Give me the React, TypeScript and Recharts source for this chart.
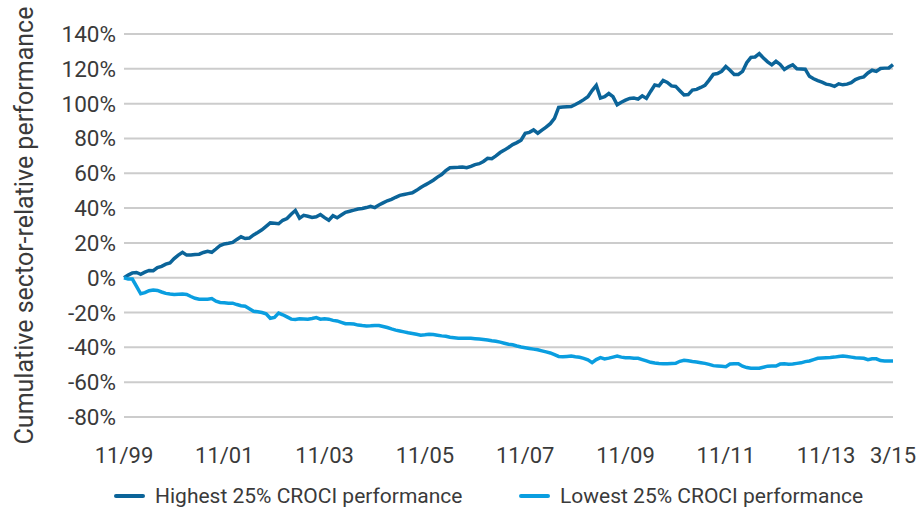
import { CartesianGrid, Legend, Line, LineChart, XAxis, YAxis } from "recharts";

// cumulative sector-relative performance, monthly from 11/99 to 3/15 (%)
const highest = [
  0, 1.5, 2.8, 3, 2, 3.2, 4.2, 4, 5.8, 6.5, 7.8, 8.5, 11, 13, 14.6, 13, 13, 13.3, 13.5, 14.5,
  15.2, 14.6, 16.5, 18.5, 19.4, 19.8, 20.3, 22, 23.5, 22.5, 22.8, 24.6, 26, 27.5, 29.5, 31.5, 31.3, 31, 33, 34,
  36.5, 38.6, 34.2, 35.8, 35.3, 34.6, 35, 36.3, 34.5, 33, 35.6, 34.4, 36, 37.6, 38.2, 38.8, 39.5, 39.8, 40.3, 41,
  40.3, 41.8, 43, 44.2, 45, 46.2, 47.3, 47.8, 48.3, 48.8, 50.2, 51.8, 53.2, 54.5, 56, 57.8, 59.3, 61.5, 63.2, 63.3,
  63.4, 63.6, 63.2, 64, 65, 65.5, 66.8, 68.6, 68.4, 70, 71.9, 73.3, 74.8, 76.5, 77.6, 79, 83, 83.5, 84.9, 83,
  84.8, 86.5, 88.5, 91.5, 97.8, 98, 98.2, 98.3, 99.5, 100.8, 102.3, 104, 107.5, 110.5, 103.2, 104, 105.8, 104, 99.3, 100.8,
  102, 103, 103.2, 102.6, 104.5, 103, 107, 110.7, 110.2, 113.3, 112.2, 110.2, 109.9, 107.4, 105, 105.2, 107.8, 108.2, 109.3, 110.5,
  113.5, 116.8, 117.3, 118.6, 121.3, 119.2, 116.8, 116.8, 118.5, 123.5, 126.6, 126.8, 128.7, 126.2, 124, 122.3, 124.3, 122.5, 119.6, 121.2,
  122.3, 120, 119.9, 119.8, 115.7, 114.3, 113.2, 112.3, 111.2, 110.8, 109.9, 111.4, 110.8, 111.2, 112, 113.8, 114.8, 115.4, 117.6, 119.2,
  118.5, 120.2, 120.4, 120.5, 122.4,
];

const lowest = [
  0, -0.8, -0.8, -5, -9.2, -8.6, -7.5, -7, -7.3, -8.2, -9, -9.4, -9.6, -9.5, -9.4, -9.6, -10.8, -11.8, -12.3, -12.3,
  -12.3, -12, -13.5, -14.2, -14.4, -14.6, -14.6, -15.4, -16.1, -16.4, -17.8, -19.3, -19.6, -20, -20.7, -23.3, -22.8, -20.3, -21.3, -22.5,
  -23.8, -24, -23.6, -23.7, -23.8, -23.4, -22.9, -23.8, -23.6, -23.8, -24.5, -24.8, -25.6, -26.4, -26.5, -26.6, -27.2, -27.5, -27.7, -27.6,
  -27.4, -27.4, -28, -28.6, -29.4, -30.1, -30.6, -31.1, -31.6, -32, -32.5, -33, -32.8, -32.5, -32.6, -33, -33.4, -33.6, -34.2, -34.5,
  -34.8, -34.8, -34.8, -34.8, -35, -35.2, -35.5, -35.8, -36.2, -36.5, -37, -37.6, -38.2, -38.5, -39.2, -39.8, -40.2, -40.6, -41, -41.4,
  -42, -42.6, -43.2, -44.2, -45.2, -45.4, -45.2, -45, -45.4, -45.7, -46.3, -47.2, -48.8, -47, -45.9, -46.6, -46.2, -45.6, -45, -45.6,
  -45.9, -46, -46.2, -46.3, -47, -47.8, -48.6, -49, -49.3, -49.4, -49.4, -49.3, -49.2, -48, -47.4, -47.7, -48.1, -48.4, -48.8, -49.2,
  -49.8, -50.5, -50.7, -50.9, -51.1, -49.6, -49.4, -49.4, -50.8, -51.6, -52, -52, -52, -51.4, -50.8, -50.7, -50.7, -49.6, -49.4, -49.7,
  -49.5, -49.2, -48.9, -48.2, -47.8, -47, -46.3, -46.1, -45.9, -45.8, -45.6, -45.2, -45, -45.3, -45.6, -45.9, -46.1, -46.3, -47.1, -46.5,
  -46.6, -47.6, -47.8, -47.8, -47.8,
];

const tickMonths = [0, 24, 48, 72, 96, 120, 144, 168, 184];
const tickLabels = ["11/99", "11/01", "11/03", "11/05", "11/07", "11/09", "11/11", "11/13", "3/15"];
const yTicks = [-80, -60, -40, -20, 0, 20, 40, 60, 80, 100, 120, 140];

const data = highest.map((h, i) => ({ month: i, highest: h, lowest: lowest[i] }));

const FONT = "Roboto, 'DejaVu Sans', sans-serif";
const TEXT = "#3a3a3a";

function ChartLegend({ payload }: any) {
  return (
    <div style={{ display: "flex", fontFamily: FONT, fontSize: 21, color: TEXT, lineHeight: "22px" }}>
      {(payload || []).map((p: any, i: number) => (
        <div key={p.value} style={{ display: "flex", alignItems: "center", width: i === 0 ? 405 : "auto" }}>
          <span style={{ display: "inline-block", width: 31, height: 4, borderRadius: 2, background: p.color, marginRight: 10 }} />
          <span>{p.value}</span>
        </div>
      ))}
    </div>
  );
}

export default function App() {
  return (
    <div style={{ position: "absolute", left: 0, top: 0, width: 918, height: 508 }}>
      <LineChart width={918} height={508} data={data} margin={{ top: 34, right: 25, left: 0, bottom: 31 }}>
        <CartesianGrid stroke="#cccccc" strokeWidth={2} vertical={false} />
        <XAxis
          type="number"
          dataKey="month"
          domain={[0, 184]}
          ticks={tickMonths}
          tickFormatter={(v: number) => tickLabels[tickMonths.indexOf(v)]}
          tickLine={false}
          axisLine={false}
          tickMargin={24}
          height={60}
          interval={0}
          tick={{ fill: TEXT, fontSize: 22, fontFamily: FONT }}
        />
        <YAxis
          domain={[-80, 140]}
          ticks={yTicks}
          tickFormatter={(v: number) => `${v}%`}
          tickLine={false}
          axisLine={false}
          width={124}
          interval={0}
          tick={{ fill: TEXT, fontSize: 22.5, fontFamily: FONT }}
          label={{
            value: "Cumulative sector-relative performance",
            angle: -90,
            position: "insideLeft",
            offset: 24,
            style: { textAnchor: "middle", fill: TEXT, fontSize: 25, fontFamily: FONT },
          }}
        />
        <Legend
          verticalAlign="middle"
          content={<ChartLegend />}
          wrapperStyle={{ top: 485, left: 114, width: 790, height: 22 }}
        />
        <Line
          type="linear"
          dataKey="highest"
          name="Highest 25% CROCI performance"
          stroke="#0b6499"
          strokeWidth={3.5}
          dot={false}
          isAnimationActive={false}
        />
        <Line
          type="linear"
          dataKey="lowest"
          name="Lowest 25% CROCI performance"
          stroke="#0a9ee0"
          strokeWidth={3.5}
          dot={false}
          isAnimationActive={false}
        />
      </LineChart>
    </div>
  );
}
